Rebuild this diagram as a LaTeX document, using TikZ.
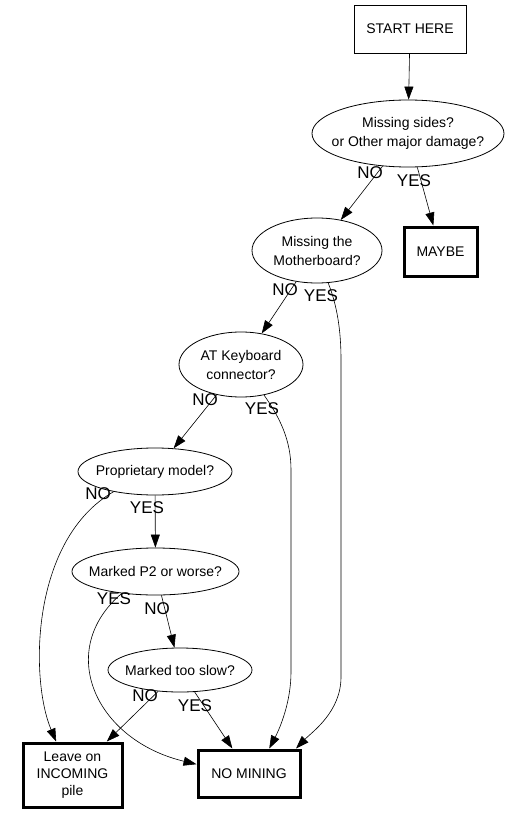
\documentclass[tikz,border=0pt]{standalone}
\usepackage{fontspec}
\setmainfont{Liberation Sans}
\usetikzlibrary{arrows.meta,shapes.geometric}
\tikzset{box/.style={draw,line width=.8pt,inner sep=0pt,align=center},endbox/.style={box,line width=3pt},dec/.style={draw,ellipse,line width=.8pt,inner sep=0pt},arr/.style={-{Triangle[length=13pt,width=9pt]},line width=.6pt}}
\begin{document}
\begin{tikzpicture}[x=1pt,y=-1pt,font=\fontsize{14}{19}\selectfont,
txt/.style={align=center,inner sep=0pt},
lbl/.style={font=\fontsize{17}{20}\selectfont,inner sep=0pt}]
\useasboundingbox (0,0) rectangle (513,813);
\node[box,minimum width=112pt,minimum height=48pt] (start) at (410,29) {START HERE};
\node[dec,minimum width=192pt,minimum height=67pt] (q1) at (408,133.5) {};
\node[txt] (q1t) at (q1) {Missing sides?\\or Other major damage?};
\node[endbox,minimum width=73pt,minimum height=49pt] (maybe) at (440.5,251.5) {MAYBE};
\node[dec,minimum width=130pt,minimum height=65pt] (q2) at (317,250.5) {};
\node[txt] (q2t) at (q2) {Missing the\\Motherboard?};
\node[dec,minimum width=124pt,minimum height=65pt] (q3) at (241,364.5) {};
\node[txt] (q3t) at (q3) {AT Keyboard\\connector?};
\node[dec,minimum width=154pt,minimum height=47pt] (q4) at (155,471.5) {};
\node[txt] (q4t) at (q4) {Proprietary model?};
\node[dec,minimum width=167pt,minimum height=47pt] (q5) at (155.5,571.5) {};
\node[txt] (q5t) at (q5) {Marked P2 or worse?};
\node[dec,minimum width=144pt,minimum height=44pt] (q6) at (180,670) {};
\node[txt] (q6t) at (q6) {Marked too slow?};
\node[endbox,minimum width=99pt,minimum height=64pt,font=\fontsize{14}{17}\selectfont] (leave) at (72.5,775) {Leave on\\INCOMING\\pile};
\node[endbox,minimum width=102pt,minimum height=47pt] (nomining) at (249,773.5) {NO MINING};
\draw[arr] (start) -- (q1);
\draw[arr] (q1) -- (q2);
\draw[arr] (q1) -- (maybe);
\draw[arr] (q2) -- (q3);
\draw[arr] (q2.289) .. controls (337,305) and (341,330) .. (341,360) -- (341,677) .. controls (341,712) and (312,732) .. (nomining.28);
\draw[arr] (q3) -- (q4);
\draw[arr] (q3.307) .. controls (280,418) and (291,440) .. (291,470) -- (291,672) .. controls (291,702) and (280,728) .. (nomining.51);
\draw[arr] (q4) -- (q5);
\draw[arr] (q4.206) .. controls (30,540) and (30,680) .. (leave.116);
\draw[arr] (q5) -- (q6);
\draw[arr] (q5.213) .. controls (55,650) and (95,740) .. (nomining.170);
\draw[arr] (q6) -- (leave);
\draw[arr] (q6) -- (nomining);
\node[lbl] (no1) at (370,173) {NO};
\node[lbl] (yes1) at (414,181) {YES};
\node[lbl] (no2) at (285,290) {NO};
\node[lbl] (yes2) at (321,296) {YES};
\node[lbl] (no3) at (205,400) {NO};
\node[lbl] (yes3) at (262,409) {YES};
\node[lbl] (no4) at (98,494) {NO};
\node[lbl] (yes4) at (147,508) {YES};
\node[lbl] (yes5) at (114,599) {YES};
\node[lbl] (no5) at (157,609) {NO};
\node[lbl] (no6) at (145,696) {NO};
\node[lbl] (yes6) at (195,706) {YES};
\end{tikzpicture}
\end{document}
